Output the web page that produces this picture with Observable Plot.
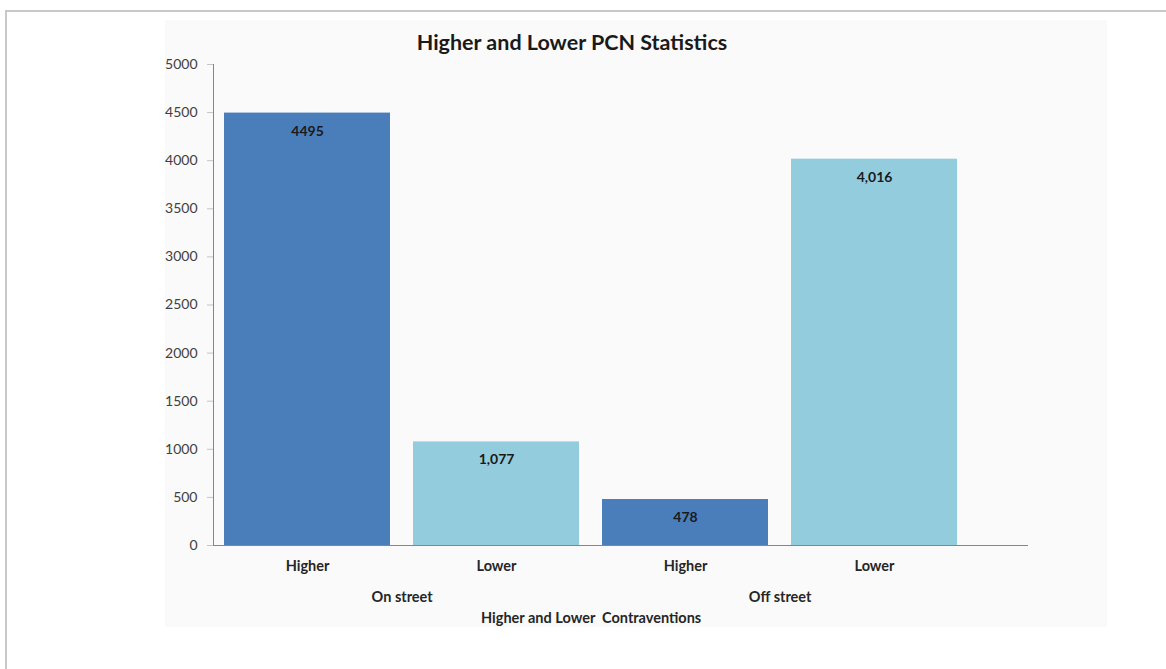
<!DOCTYPE html>
<html>
<head>
<meta charset="utf-8">
<script src="https://cdn.jsdelivr.net/npm/d3@7"></script>
<script src="https://cdn.jsdelivr.net/npm/@observablehq/plot@0.6"></script>
<style>
html,body{margin:0;padding:0;background:#fff;overflow:hidden;width:1166px;height:669px;}
#border{position:absolute;left:5px;top:10px;width:1300px;height:800px;border:2px solid #c8c8c8;}
#bg{position:absolute;left:165px;top:20px;width:942px;height:607px;background:#fafafa;}
#title{position:absolute;left:165px;width:814px;top:29px;text-align:center;font-family:Lato,"Open Sans",sans-serif;font-weight:bold;font-size:21.5px;color:#1a1a1a;}
#chart{position:absolute;left:0;top:0;}
</style>
</head>
<body>
<div id="border"></div>
<div id="bg"></div>
<div id="chart"></div>
<div id="title"></div>
<script>
// ---- data ----
const titleText = "Higher and Lower PCN Statistics";
const axisTitle = "Higher and Lower  Contraventions";
const groups = ["On street", "Off street"];
const members = ["Higher", "Lower", "Higher", "Lower"];
const groupOf = ["On street", "On street", "Off street", "Off street"];
const values = [4495, 1077, 478, 4016];
const valueLabels = ["4495", "1,077", "478", "4,016"];
const yTicks = [0, 500, 1000, 1500, 2000, 2500, 3000, 3500, 4000, 4500, 5000];
const shades = ["Higher", "Lower"];
const shadeColors = ["#4a7ebb", "#93cddd"];

document.getElementById("title").textContent = titleText;

const rows = values.map((v, i) => ({
  key: groupOf[i] + "|" + members[i],
  member: members[i],
  group: groupOf[i],
  value: v,
  label: valueLabels[i]
}));
const keys = rows.map(d => d.key);

// layout
const W = 1166, H = 669;
const ML = 213, MR = 138, MT = 64, MB = 124;
const xScaleOpts = {type: "band", domain: keys, range: [ML, ML + 754], paddingInner: 0.122, paddingOuter: 0.053};
const xs = Plot.scale({x: xScaleOpts});
const step = xs.apply(keys[1]) - xs.apply(keys[0]);

const groupRows = groups.map(g => ({group: g, first: rows.find(r => r.group === g).key}));
const font = "Lato, 'Open Sans', sans-serif";
const labelSize = 14.5;

const chart = Plot.plot({
  width: W,
  height: H,
  marginLeft: ML,
  marginRight: MR,
  marginTop: MT,
  marginBottom: MB,
  style: {background: "transparent", fontFamily: font},
  x: xScaleOpts,
  y: {domain: [0, 5000], ticks: yTicks},
  color: {domain: shades, range: shadeColors},
  marks: [
    Plot.barY(rows, {x: "key", y: "value", fill: "member"}),
    Plot.text(rows, {x: "key", y: "value", text: "label", dy: 18, fontWeight: "bold", fontSize: 14, fill: "#1a1a1a"}),
    Plot.axisY({ticks: yTicks, tickSize: 6, tickPadding: 10, fontSize: 14, label: null, stroke: "#c4c4c4", fill: "#404040", tickFormat: d => String(d)}),
    Plot.axisX({tickSize: 0, tickPadding: 15, fontSize: labelSize, fontWeight: "bold", fill: "#262626", label: null, tickFormat: k => k.split("|")[1]}),
    Plot.text(groupRows, {x: "first", dx: step / 2, frameAnchor: "bottom", dy: 52, text: "group", fontWeight: "bold", fontSize: labelSize, fill: "#262626", lineAnchor: "middle"}),
    Plot.text([axisTitle], {x: () => keys[1], dx: step / 2, frameAnchor: "bottom", dy: 73, text: d => d, fontWeight: "bold", fontSize: labelSize, fill: "#262626", lineAnchor: "middle"}),
    Plot.frame({anchor: "left", stroke: "#868686"}),
    Plot.ruleY([0], {stroke: "#868686"})
  ]
});
document.getElementById("chart").appendChild(chart);
</script>
</body>
</html>
